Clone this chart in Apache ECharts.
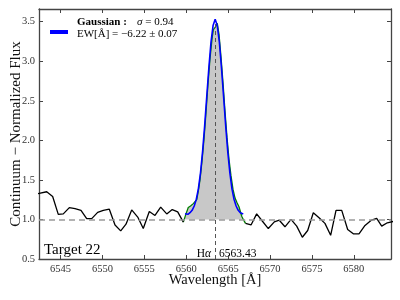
<!DOCTYPE html>
<html><head><meta charset="utf-8">
<script src="https://cdn.jsdelivr.net/npm/echarts@6/dist/echarts.min.js"></script>
<style>html,body{margin:0;padding:0;background:#fff}#c{width:400px;height:300px}</style>
</head><body><div id="c"></div>
<script>
const xTicks = [6545, 6550, 6555, 6560, 6565, 6570, 6575, 6580];
const yTicks = [0.5, 1.0, 1.5, 2.0, 2.5, 3.0, 3.5];
const xRange = [6542.43, 6584.43];
const yRange = [0.5, 3.66];
const restWave = 6563.43;
const continuumLevel = 1.0;
const markerTop = 3.47;

const contWaveLeft = [6542.30, 6543.35, 6544.06, 6544.73, 6545.33, 6546.05, 6546.73, 6547.44, 6548.12, 6548.72, 6549.43, 6550.10, 6550.82, 6551.50, 6552.18, 6552.81, 6553.49, 6554.21, 6554.87, 6555.59, 6556.27, 6556.95, 6557.67, 6558.33, 6558.98, 6559.65];
const contFluxLeft = [1.325, 1.35, 1.29, 1.064, 1.07, 1.15, 1.136, 1.115, 1.01, 1.01, 1.09, 1.115, 1.13, 0.93, 0.856, 0.94, 1.12, 1.03, 0.885, 1.10, 1.05, 1.155, 1.07, 1.125, 1.095, 0.966];

const contWaveRight = [6567.07, 6567.73, 6568.40, 6569.07, 6569.79, 6570.51, 6571.10, 6571.78, 6572.50, 6573.18, 6573.85, 6574.49, 6575.16, 6575.91, 6576.55, 6577.23, 6577.87, 6578.55, 6579.26, 6579.93, 6580.61, 6581.33, 6582.04, 6582.72, 6583.32, 6583.99, 6584.70];
const contFluxRight = [0.95, 0.93, 1.07, 0.98, 0.885, 0.97, 0.99, 0.907, 1.0, 0.915, 0.775, 0.86, 1.085, 1.015, 0.95, 0.80, 1.115, 1.115, 0.873, 0.818, 0.818, 0.924, 0.987, 1.013, 0.915, 0.958, 0.975];

const lineWave = [6559.65, 6559.97, 6560.24, 6560.51, 6560.84, 6561.25, 6561.44, 6561.64, 6561.88, 6562.12, 6562.36, 6562.59, 6562.83, 6563.07, 6563.23, 6563.47, 6563.70, 6563.91, 6564.15, 6564.39, 6564.62, 6564.86, 6565.10, 6565.34, 6565.58, 6565.82, 6566.06, 6566.29, 6566.62, 6566.85, 6567.07];
const lineFlux = [0.966, 1.07, 1.15, 1.17, 1.20, 1.25, 1.36, 1.50, 1.74, 2.02, 2.36, 2.71, 3.03, 3.28, 3.40, 3.43, 3.48, 3.34, 3.05, 2.72, 2.37, 2.04, 1.76, 1.55, 1.38, 1.27, 1.21, 1.16, 1.04, 0.99, 0.95];

const fitWave = [6559.85, 6560.20, 6560.45, 6560.70, 6560.95, 6561.20, 6561.45, 6561.70, 6561.95, 6562.20, 6562.45, 6562.70, 6562.95, 6563.20, 6563.45, 6563.70, 6563.95, 6564.20, 6564.45, 6564.70, 6564.95, 6565.20, 6565.45, 6565.70, 6565.95, 6566.20, 6566.45, 6566.80];
const fitFlux = [1.072, 1.065, 1.085, 1.115, 1.17, 1.255, 1.39, 1.59, 1.86, 2.19, 2.56, 2.92, 3.24, 3.45, 3.53, 3.45, 3.24, 2.92, 2.56, 2.19, 1.86, 1.59, 1.39, 1.255, 1.17, 1.115, 1.085, 1.07];

const pairs = (xs, ys) => xs.map((x, i) => [x, ys[i]]);
const SERIF = 'Liberation Serif';
const frame = { color: '#444', width: 1.3 };

const chart = echarts.init(document.getElementById('c'), null, { renderer: 'canvas' });

const xBase = {
  type: 'value', min: xRange[0], max: xRange[1],
  axisLine: { show: true, onZero: false, lineStyle: frame },
  axisTick: { show: true, inside: true, length: 4, customValues: xTicks, lineStyle: { color: '#444', width: 1 } },
  splitLine: { show: false }
};
const yBase = {
  type: 'value', min: yRange[0], max: yRange[1],
  axisLine: { show: true, onZero: false, lineStyle: frame },
  axisTick: { show: true, inside: true, length: 4, customValues: yTicks, lineStyle: { color: '#444', width: 1 } },
  splitLine: { show: false }
};

chart.setOption({
  backgroundColor: '#ffffff',
  animation: false,
  grid: { left: 39, right: 9, top: 9, bottom: 41, containLabel: false, outerBoundsMode: 'none' },
  xAxis: [
    Object.assign({}, xBase, {
      position: 'bottom',
      axisLabel: { customValues: xTicks, margin: 5, fontFamily: SERIF, fontSize: 10.5, color: '#333', formatter: v => String(Math.round(v)) },
      name: 'Wavelength [Å]', nameLocation: 'middle', nameGap: 14, nameMoveOverlap: false,
      nameTextStyle: { fontFamily: SERIF, fontSize: 14.5, color: '#111' }
    }),
    Object.assign({}, xBase, { position: 'top', axisLabel: { show: false } })
  ],
  yAxis: [
    Object.assign({}, yBase, {
      position: 'left',
      axisLabel: { customValues: yTicks, margin: 4, fontFamily: SERIF, fontSize: 10.5, color: '#333', formatter: v => v.toFixed(1) },
      name: 'Continuum − Normalized Flux', nameLocation: 'middle', nameGap: 15, nameMoveOverlap: false,
      nameTextStyle: { fontFamily: SERIF, fontSize: 15, color: '#111' }
    }),
    Object.assign({}, yBase, { position: 'right', axisLabel: { show: false } })
  ],
  series: [
    {
      type: 'line', name: 'line region', data: pairs(lineWave, lineFlux),
      showSymbol: false, symbol: 'none', z: 2,
      lineStyle: { color: '#008000', width: 1.3 },
      areaStyle: { color: '#c8c8c8', opacity: 1, origin: continuumLevel },
      markLine: {
        silent: true, symbol: 'none', label: { show: false }, z: 3,
        data: [
          [{ coord: [restWave, yRange[0]], lineStyle: { color: '#555', type: [4, 3], width: 1 } },
           { coord: [restWave, markerTop] }]
        ]
      }
    },
    {
      type: 'line', name: 'continuum left', data: pairs(contWaveLeft, contFluxLeft),
      showSymbol: false, symbol: 'none', z: 3,
      lineStyle: { color: '#000', width: 1.3 },
      markLine: {
        silent: true, symbol: 'none', label: { show: false },
        data: [{ yAxis: continuumLevel, lineStyle: { color: '#999', type: [6, 4], width: 1.5 } }]
      }
    },
    {
      type: 'line', name: 'continuum right', data: pairs(contWaveRight, contFluxRight),
      showSymbol: false, symbol: 'none', z: 3,
      lineStyle: { color: '#000', width: 1.3 }
    },
    {
      type: 'line', name: 'Gaussian', data: pairs(fitWave, fitFlux),
      showSymbol: false, symbol: 'none', z: 4,
      lineStyle: { color: '#0000ff', width: 1.6 }
    }
  ],
  graphic: [
    { type: 'line', shape: { x1: 50, y1: 32, x2: 68, y2: 32 }, style: { stroke: '#0000ff', lineWidth: 4 } },
    { type: 'text', x: 77, y: 22.5, style: { text: 'Gaussian :', fontFamily: SERIF, fontWeight: 'bold', fontSize: 11, fill: '#000', verticalAlign: 'middle' } },
    { type: 'text', x: 137, y: 22.5, style: { text: '{i|σ} = 0.94', fontFamily: SERIF, fontSize: 11, fill: '#000', verticalAlign: 'middle',
        rich: { i: { fontFamily: SERIF, fontStyle: 'italic', fontSize: 11 } } } },
    { type: 'text', x: 77, y: 34, style: { text: 'EW[Å] = −6.22 ± 0.07', fontFamily: SERIF, fontSize: 11, fill: '#000', verticalAlign: 'middle' } },
    { type: 'text', x: 44, y: 250, style: { text: 'Target 22', fontFamily: SERIF, fontSize: 15, fill: '#000', verticalAlign: 'middle' } },
    { type: 'text', x: 211, y: 254, style: { text: 'H{i|α}', fontFamily: SERIF, fontSize: 11.5, fill: '#000', align: 'right', verticalAlign: 'middle',
        rich: { i: { fontFamily: SERIF, fontStyle: 'italic', fontSize: 11.5 } } } },
    { type: 'text', x: 219, y: 254, style: { text: '6563.43', fontFamily: SERIF, fontSize: 11.5, fill: '#000', verticalAlign: 'middle' } }
  ]
});
</script></body></html>
